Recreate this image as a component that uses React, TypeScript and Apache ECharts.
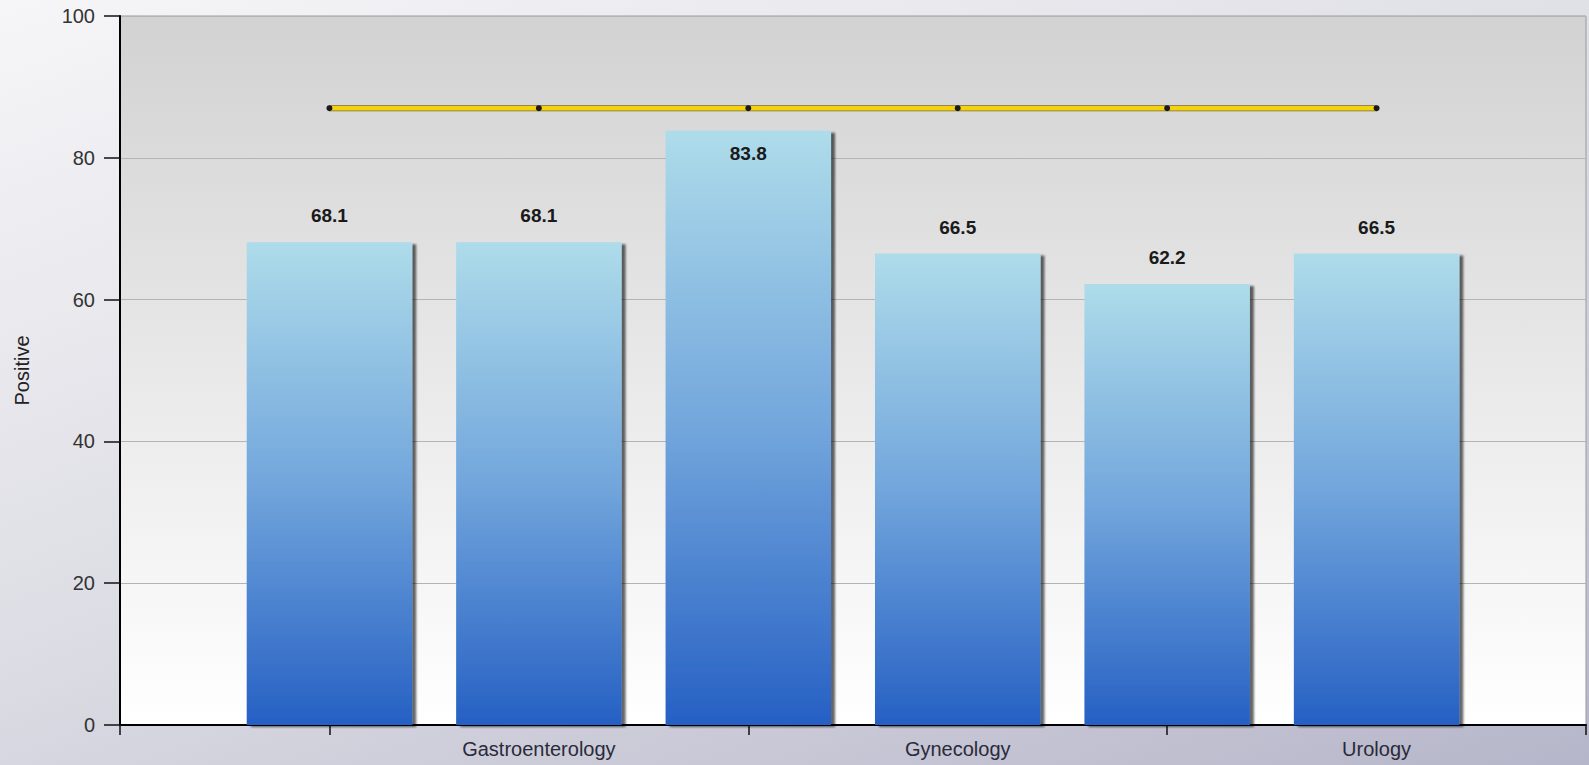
import React, { useEffect, useRef } from "react";
import * as echarts from "echarts";

const categories = ["", "", "Gastroenterology", "", "Gynecology", "", "Urology", ""];
const positiveValues: (number | null)[] = [null, 68.1, 68.1, 83.8, 66.5, 62.2, 66.5, null];
const targetValues: (number | null)[] = [null, 87, 87, 87, 87, 87, 87, null];
const insideLabelIndexes = [3];
const yMin = 0;
const yMax = 100;
const yInterval = 20;
const yAxisTitle = "Positive";

const FONT = "'Liberation Sans', Arial, sans-serif";

export default function App() {
  const ref = useRef<HTMLDivElement>(null);

  useEffect(() => {
    document.body.style.margin = "0";
    if (!ref.current) return;
    const chart = echarts.init(ref.current, null, { renderer: "svg" });

    const barData = positiveValues.map((v, i) =>
      insideLabelIndexes.includes(i)
        ? { value: v, label: { position: "insideTop", distance: 13 } }
        : { value: v }
    );

    chart.setOption({
      animation: false,
      grid: {
        left: 120,
        right: 3,
        top: 16,
        bottom: 40,
        show: true,
        borderColor: "#9a9aa0",
        borderWidth: 1,
        backgroundColor: {
          type: "linear",
          x: 0,
          y: 0,
          x2: 0,
          y2: 1,
          colorStops: [
            { offset: 0, color: "#d2d2d2" },
            { offset: 1, color: "#ffffff" },
          ],
        },
      },
      xAxis: {
        type: "category",
        data: categories,
        boundaryGap: false,
        axisLine: { show: true, lineStyle: { color: "#000", width: 2 } },
        axisTick: {
          show: true,
          length: 10,
          lineStyle: { color: "#111", width: 1.5 },
          interval: (i: number) => i % 2 === 1 || i === 0 || i === categories.length - 1,
        },
        axisLabel: {
          interval: (i: number) => categories[i] !== "",
          margin: 14,
          fontFamily: FONT,
          fontSize: 20,
          color: "#2a2a3a",
        },
        splitLine: { show: false },
      },
      yAxis: {
        type: "value",
        min: yMin,
        max: yMax,
        interval: yInterval,
        name: yAxisTitle,
        nameLocation: "middle",
        nameRotate: 90,
        nameGap: 88,
        nameTextStyle: { fontFamily: FONT, fontSize: 20, color: "#222" },
        axisLine: { show: true, lineStyle: { color: "#000", width: 2 } },
        axisTick: { show: true, length: 16, lineStyle: { color: "#111", width: 1.5 } },
        axisLabel: { margin: 25, fontFamily: FONT, fontSize: 20, color: "#333" },
        splitLine: { show: true, lineStyle: { color: "#b4b4b4", width: 1 } },
      },
      series: [
        {
          type: "bar",
          data: barData,
          barWidth: "79%",
          itemStyle: {
            color: {
              type: "linear",
              x: 0,
              y: 0,
              x2: 0,
              y2: 1,
              colorStops: [
                { offset: 0, color: "#aedcea" },
                { offset: 0.5, color: "#72a6dc" },
                { offset: 1, color: "#2660c4" },
              ],
            },
            shadowColor: "rgba(0,0,0,0.6)",
            shadowOffsetX: 4,
            shadowOffsetY: 2,
            shadowBlur: 2,
          },
          label: {
            show: true,
            position: "top",
            distance: 17,
            fontFamily: FONT,
            fontSize: 19,
            fontWeight: "bold",
            color: "#1a1a1a",
          },
          z: 2,
        },
        {
          type: "line",
          data: targetValues,
          symbol: "none",
          lineStyle: { color: "#7a6c28", width: 6 },
          silent: true,
          z: 3,
        },
        {
          type: "line",
          data: targetValues,
          symbol: "circle",
          symbolSize: 6,
          itemStyle: { color: "#1a1a1a" },
          lineStyle: { color: "#f5d30c", width: 4.5 },
          z: 4,
        },
      ],
    });

    return () => chart.dispose();
  }, []);

  return (
    <div
      ref={ref}
      style={{
        position: "absolute",
        left: 0,
        top: 0,
        width: 1589,
        height: 765,
        background: "linear-gradient(160deg, #f6f6f8 0%, #dcdce4 50%, #b6b6ca 100%)",
      }}
    />
  );
}
